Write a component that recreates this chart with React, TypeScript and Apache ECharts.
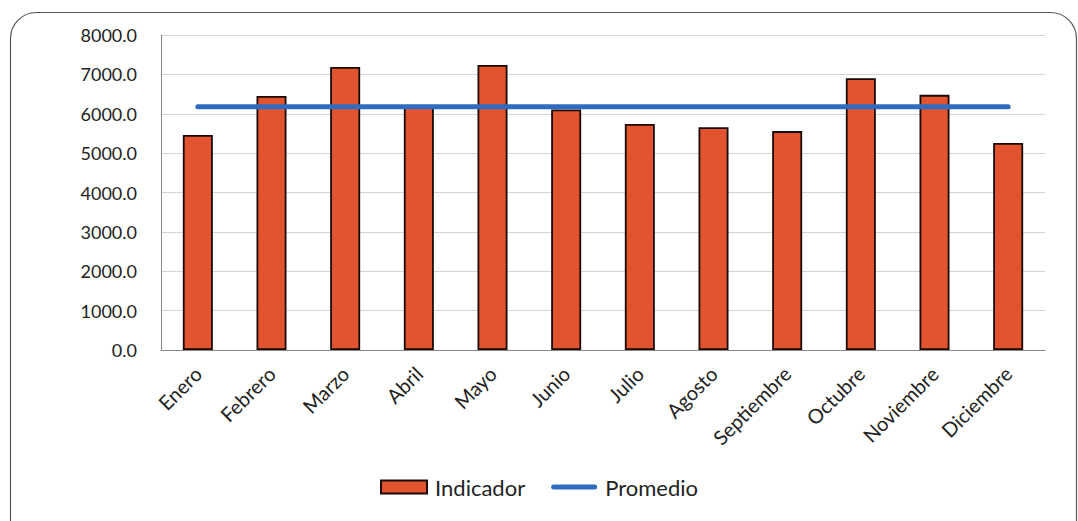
import React, { useEffect, useRef } from "react";
import * as echarts from "echarts";

const categories = ["Enero", "Febrero", "Marzo", "Abril", "Mayo", "Junio", "Julio", "Agosto", "Septiembre", "Octubre", "Noviembre", "Diciembre"];
const indicador = [5460, 6450, 7190, 6180, 7240, 6110, 5740, 5660, 5560, 6900, 6480, 5260];
const promedio = [6180, 6180, 6180, 6180, 6180, 6180, 6180, 6180, 6180, 6180, 6180, 6180];
const seriesNames = ["Indicador", "Promedio"];

const FONT = "Lato, 'Open Sans', sans-serif";

export default function App() {
  const ref = useRef<HTMLDivElement>(null);
  useEffect(() => {
    if (!ref.current) return;
    const chart = echarts.init(ref.current, null, { renderer: "svg" });
    chart.setOption({
      animation: false,
      backgroundColor: "#ffffff",
      graphic: [
        {
          type: "rect",
          left: 8,
          top: 10,
          shape: { width: 1066, height: 540, r: 26 },
          style: { fill: "none", stroke: "#555555", lineWidth: 1.2 },
          z: -1,
        },
      ],
      grid: { left: 161, right: 33, top: 35, bottom: 171, containLabel: false },
      legend: {
        left: "center",
        top: 471,
        itemWidth: 46,
        itemHeight: 13,
        itemGap: 26,
        textStyle: { fontFamily: FONT, fontSize: 22, color: "#222", padding: [0, 0, 0, 3] },
        data: [
          { name: seriesNames[0], icon: "rect" },
          {
            name: seriesNames[1],
            icon: "path://M2.5,0 H43.5 A2.5,2.5 0 0 1 43.5,5 H2.5 A2.5,2.5 0 0 1 2.5,0 Z",
          },
        ],
      },
      xAxis: {
        type: "category",
        data: categories,
        axisLine: { lineStyle: { color: "#888", width: 1.2 } },
        axisTick: { show: false },
        axisLabel: {
          rotate: 45,
          interval: 0,
          margin: 20,
          fontFamily: FONT,
          fontSize: 20,
          color: "#222",
        },
      },
      yAxis: {
        type: "value",
        min: 0,
        max: 8000,
        interval: 1000,
        axisLine: { show: true, lineStyle: { color: "#888", width: 1 } },
        axisTick: { show: false },
        splitLine: { lineStyle: { color: "#d4d4d4", width: 1 } },
        axisLabel: {
          formatter: (v: number) => v.toFixed(1),
          margin: 24,
          fontFamily: FONT,
          fontSize: 18,
          color: "#222",
        },
      },
      series: [
        {
          name: seriesNames[0],
          type: "bar",
          data: indicador,
          barWidth: 30,
          itemStyle: { color: "#e2532f", borderColor: "#1a0a05", borderWidth: 1.8 },
        },
        {
          name: seriesNames[1],
          type: "line",
          data: promedio,
          symbol: "none",
          lineStyle: { color: "#2f6cbf", width: 5, cap: "round" },
          itemStyle: { color: "#2f6cbf" },
        },
      ],
    });
    return () => chart.dispose();
  }, []);
  return (
    <div
      ref={ref}
      style={{ position: "fixed", left: 0, top: 0, width: 1078, height: 521 }}
    />
  );
}
